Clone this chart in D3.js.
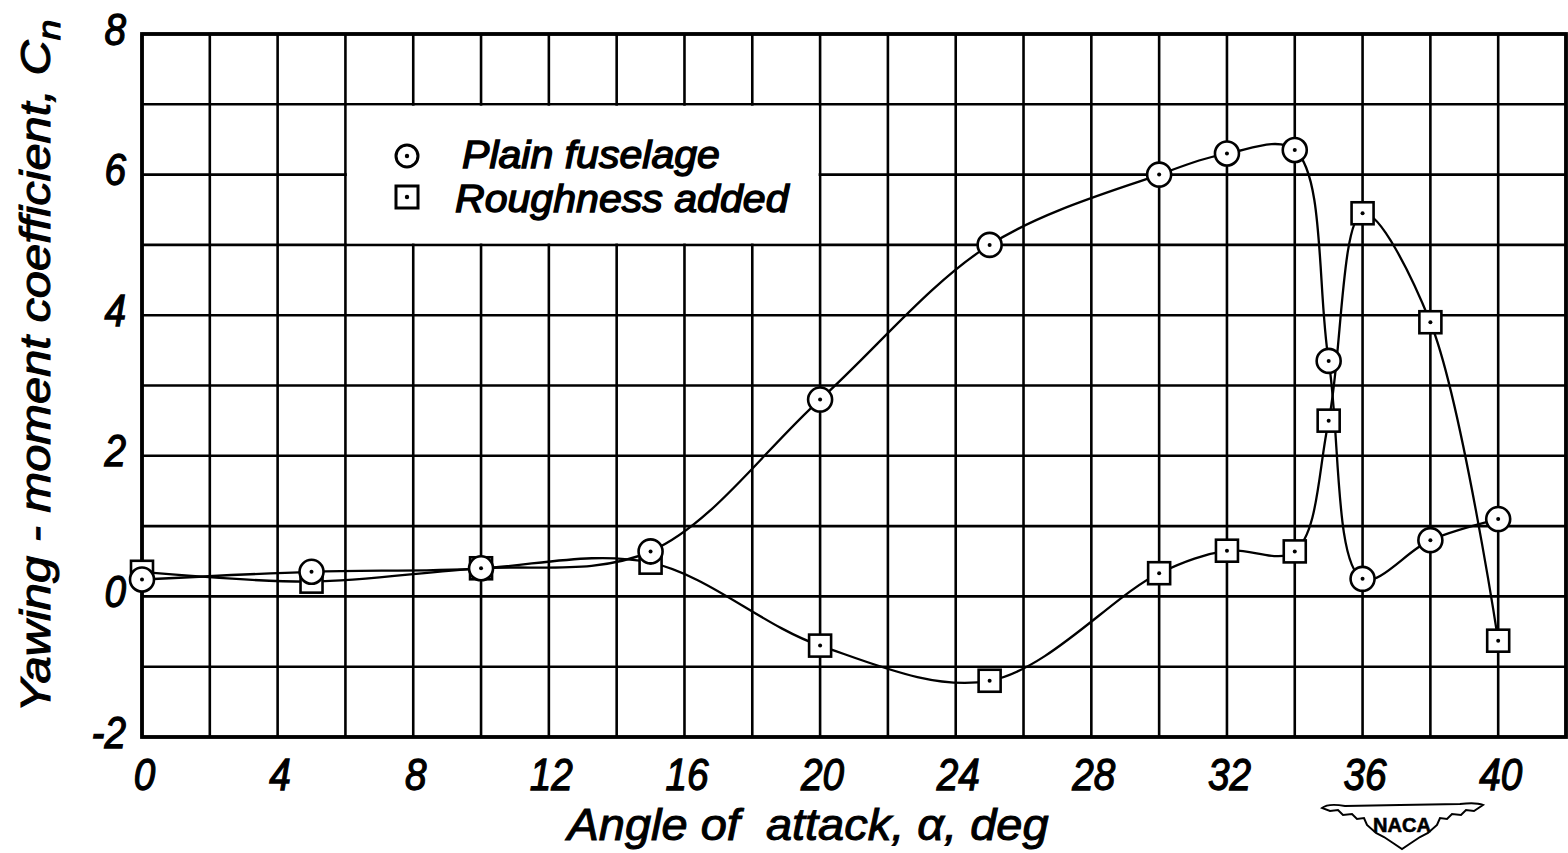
<!DOCTYPE html>
<html><head><meta charset="utf-8">
<script src="https://cdn.jsdelivr.net/npm/d3@7"></script>
<style>
body{margin:0;background:#fff}
svg text{font-family:"Liberation Sans",Arial,sans-serif;font-style:italic;fill:#000;white-space:pre}
</style>
</head><body>
<svg id="chart" width="1568" height="853"></svg>
<script>
// ---- data ----
const anglesPlain = [0, 5, 10, 15, 20, 25, 30, 32, 34, 35, 36, 38, 40];
const cnPlain     = [0.24, 0.35, 0.40, 0.64, 2.80, 5.00, 6.00, 6.30, 6.35, 3.35, 0.25, 0.80, 1.10];
const anglesRough = [0, 5, 10, 15, 20, 25, 30, 32, 34, 35, 36, 38, 40];
const cnRough     = [0.35, 0.21, 0.40, 0.48, -0.70, -1.20, 0.33, 0.65, 0.64, 2.50, 5.45, 3.90, -0.63];
const xTickValues = [0, 4, 8, 12, 16, 20, 24, 28, 32, 36, 40];
const yTickValues = [-2, 0, 2, 4, 6, 8];
const legendLabels = ["Plain fuselage", "Roughness added"];
const xTitle = "Angle of  attack, \u03B1, deg";
const yTitleMain = "Yawing - moment coefficient, C";
const yTitleSub = "n";
const logoText = "NACA";

// ---- layout ----
const svg = d3.select("#chart");
const x = d3.scaleLinear().domain([0, 42]).range([142, 1566]);
const y = d3.scaleLinear().domain([-2, 8]).range([737, 34]);

function label(parent, x0, y0, opts, fill) {
  const g = parent.append("g").attr("transform", `translate(${x0},${y0}) rotate(${opts.rotate || 0})`);
  const inner = g.append("g");
  const t = inner.append("text")
    .attr("font-size", opts.size)
    .attr("text-anchor", opts.anchor || "start")
    .attr("stroke", "#000").attr("stroke-width", opts.sw == null ? 1 : opts.sw)
    .attr("font-weight", opts.weight || "normal");
  fill(t);
  const w = t.node().getBBox().width;
  const f = opts.width ? opts.width / w : (opts.factor || 0.85);
  inner.attr("transform", `scale(${f},1)`);
  return t;
}

// ---- grid ----
const grid = svg.append("g").attr("stroke", "#000").attr("stroke-width", 2.6);
grid.selectAll(".v").data(d3.range(0, 43, 2)).join("line")
  .attr("x1", d => x(d)).attr("x2", d => x(d)).attr("y1", y(8)).attr("y2", y(-2));
grid.selectAll(".h").data(d3.range(-2, 9, 1)).join("line")
  .attr("x1", x(0)).attr("x2", x(42)).attr("y1", d => y(d)).attr("y2", d => y(d));

// legend box (blank area of the grid)
svg.append("rect")
  .attr("x", x(6) + 1.5).attr("y", y(7) + 1.5)
  .attr("width", x(20) - x(6) - 3).attr("height", y(5) - y(7) - 3)
  .attr("fill", "#fff");

// frame
svg.append("rect").attr("x", x(0)).attr("y", y(8))
  .attr("width", x(42) - x(0)).attr("height", y(-2) - y(8))
  .attr("fill", "none").attr("stroke", "#000").attr("stroke-width", 3.8);

// ---- axes (tick labels drawn through d3 axes) ----
const xAxis = d3.axisBottom(x).tickValues(xTickValues).tickSize(0).tickFormat(d3.format("d"));
const gx = svg.append("g").attr("transform", `translate(0,${y(-2)})`).call(xAxis);
gx.select(".domain").remove();
gx.selectAll(".tick text").each(function(d) {
  const tickG = d3.select(this.parentNode);
  d3.select(this).remove();
  label(tickG, 2, 53, {size: 45, anchor: "middle", factor: 0.86, sw: 1.3}, t => t.text(d));
});

const yAxis = d3.axisLeft(y).tickValues(yTickValues).tickSize(0).tickFormat(d3.format("d"));
const gy = svg.append("g").attr("transform", `translate(${x(0)},0)`).call(yAxis);
gy.select(".domain").remove();
gy.selectAll(".tick text").each(function(d) {
  const tickG = d3.select(this.parentNode);
  d3.select(this).remove();
  label(tickG, -16, 10, {size: 45, anchor: "end", factor: 0.86, sw: 1.3}, t => t.text(d));
});

// ---- titles ----
label(svg, 808, 840, {size: 44, anchor: "middle", width: 485}, t => t.text(xTitle));
label(svg, 50, 366, {size: 42, anchor: "middle", rotate: -90, width: 693}, t => {
  t.append("tspan").text(yTitleMain);
  t.append("tspan").attr("font-size", 32).attr("dy", 10).text(yTitleSub);
});

// ---- curves ----
const line = d3.line().curve(d3.curveCatmullRom.alpha(0.5)).x(d => x(d[0])).y(d => y(d[1]));
const plainPts = anglesPlain.map((a, i) => [a, cnPlain[i]]);
const roughPts = anglesRough.map((a, i) => [a, cnRough[i]]);
svg.append("path").attr("d", line(plainPts)).attr("fill", "none").attr("stroke", "#000").attr("stroke-width", 2.3);
svg.append("path").attr("d", line(roughPts)).attr("fill", "none").attr("stroke", "#000").attr("stroke-width", 2.3);

// ---- symbols ----
const sq = 22, cr = 12;
function squares(g, pts) {
  g.selectAll("rect.s").data(pts).join("rect")
    .attr("x", d => x(d[0]) - sq / 2).attr("y", d => y(d[1]) - sq / 2)
    .attr("width", sq).attr("height", sq)
    .attr("fill", "#fff").attr("stroke", "#000").attr("stroke-width", 2.6);
  g.selectAll("circle.d").data(pts).join("circle").attr("class", "d")
    .attr("cx", d => x(d[0])).attr("cy", d => y(d[1])).attr("r", 2).attr("fill", "#000");
}
function circles(g, pts) {
  g.selectAll("circle.c").data(pts).join("circle").attr("class", "c")
    .attr("cx", d => x(d[0])).attr("cy", d => y(d[1])).attr("r", cr)
    .attr("fill", "#fff").attr("stroke", "#000").attr("stroke-width", 2.6);
  g.selectAll("circle.d").data(pts).join("circle").attr("class", "d")
    .attr("cx", d => x(d[0])).attr("cy", d => y(d[1])).attr("r", 2).attr("fill", "#000");
}
squares(svg.append("g"), roughPts);
circles(svg.append("g"), plainPts);

// ---- legend ----
const lg = svg.append("g");
lg.append("circle").attr("cx", 407).attr("cy", 156).attr("r", 11)
  .attr("fill", "#fff").attr("stroke", "#000").attr("stroke-width", 3);
lg.append("circle").attr("cx", 407).attr("cy", 156).attr("r", 2.2).attr("fill", "#000");
lg.append("rect").attr("x", 396).attr("y", 186).attr("width", 22).attr("height", 22)
  .attr("fill", "#fff").attr("stroke", "#000").attr("stroke-width", 3);
lg.append("circle").attr("cx", 407).attr("cy", 197).attr("r", 2.2).attr("fill", "#000");
label(lg, 462, 168, {size: 39, width: 258, sw: 1.4}, t => t.text(legendLabels[0]));
label(lg, 455, 212, {size: 39, width: 335, sw: 1.4}, t => t.text(legendLabels[1]));

// ---- NACA logo ----
const logo = svg.append("g");
logo.append("path")
  .attr("d", "M1322,808 Q1328,803 1345,806 L1400,805 L1460,804 Q1476,802 1483,805 " +
             "L1474,811 L1466,810 L1461,815 L1452,814 L1447,819 L1440,818 L1437,825 " +
             "L1428,833 L1420,837 L1411,843 L1402,849 L1393,843 L1384,837 L1376,833 " +
             "L1367,825 L1364,818 L1357,819 L1352,814 L1343,815 L1338,810 L1330,811 Z")
  .attr("fill", "#fff").attr("stroke", "#000").attr("stroke-width", 2);
label(logo, 1402, 832, {size: 20, anchor: "middle", width: 58, sw: 0.6}, t => t.style("font-style", "normal").attr("font-weight", "bold").text(logoText));
</script>
</body></html>
